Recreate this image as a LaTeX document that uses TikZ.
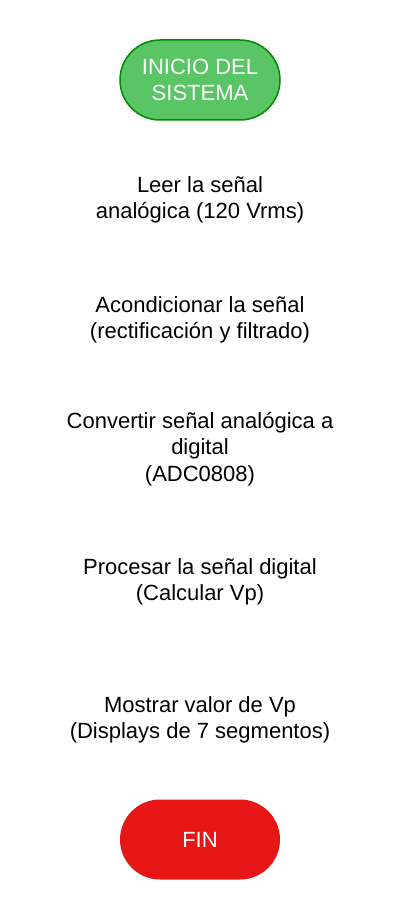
\documentclass[tikz,border=0pt]{standalone}
\usepackage{fontspec}
\setmainfont{Liberation Sans}
\definecolor{inicioverde}{RGB}{89,197,101}
\definecolor{bordeverde}{RGB}{0,140,0}
\definecolor{finrojo}{RGB}{230,22,22}

\begin{document}
\begin{tikzpicture}[x=1pt,y=-1pt]
				\tikzstyle{every node}=[align=center,inner sep=0pt,
				font=\fontsize{22}{26.5}\selectfont]
				\tikzstyle{terminal}=[rounded corners=40pt,minimum width=160pt,
				minimum height=80pt,text=white]
				\tikzstyle{paso}=[text=black]
				\useasboundingbox (0,0) rectangle (400,920);
				\node[terminal,fill=inicioverde,draw=bordeverde,line width=1.5pt] (inicio) at (200,80) {INICIO DEL\\SISTEMA};
				\node[paso] (leer) at (200,200) {Leer la señal\\analógica (120 Vrms)};
				\node[paso] (acond) at (200,320) {Acondicionar la señal\\(rectificación y filtrado)};
				\node[paso] (adc) at (200,449) {Convertir señal analógica a\\digital\\(ADC0808)};
				\node[paso] (proc) at (200,582) {Procesar la señal digital\\(Calcular Vp)};
				\node[paso] (mostrar) at (200,720) {Mostrar valor de Vp\\(Displays de 7 segmentos)};
				\node[terminal,fill=finrojo] (fin) at (200,839.5) {FIN};
				\end{tikzpicture}
\end{document}
